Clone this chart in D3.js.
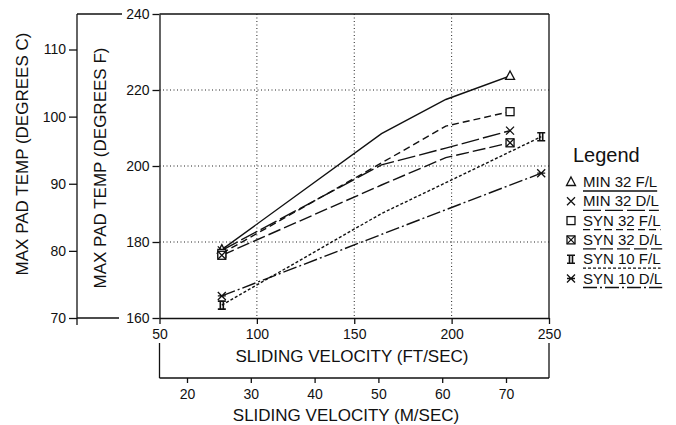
<!DOCTYPE html>
<html>
<head>
<meta charset="utf-8">
<script src="https://cdn.jsdelivr.net/npm/d3@7"></script>
<style>
  body { margin: 0; background: #fff; }
  text { font-family: "Liberation Sans", Arial, sans-serif; fill: #111; }
</style>
</head>
<body>
<div id="chart"></div>
<script>
// axis ticks
const ftTicks = [50, 100, 150, 200, 250];
const msTicks = [20, 30, 40, 50, 60, 70];
const fTicks = [160, 180, 200, 220, 240];
const cTicks = [70, 80, 90, 100, 110];

// sliding velocity (ft/sec) of the test points
const vel32 = [82, 164, 197, 230];
const vel10 = [82, 164, 197, 246];

// max pad temp (deg F)
const min32FL = [178, 208.5, 217.5, 223.7];
const min32DL = [177.8, 200.3, 204.7, 209.3];
const syn32FL = [177, 200.8, 210.5, 214.3];
const syn32DL = [176.5, 195, 202.2, 206.1];
const syn10FL = [163.4, 187.5, 195.6, 207.7];
const syn10DL = [165.8, 182, 188.5, 198.1];

const seriesNames = ["MIN 32 F/L", "MIN 32 D/L", "SYN 32 F/L", "SYN 32 D/L", "SYN 10 F/L", "SYN 10 D/L"];

const series = [
  { name: seriesNames[0], x: vel32, y: min32FL, dash: null, marker: "tri" },
  { name: seriesNames[1], x: vel32, y: min32DL, dash: "18,4", marker: "x" },
  { name: seriesNames[2], x: vel32, y: syn32FL, dash: "7,4", marker: "sq" },
  { name: seriesNames[3], x: vel32, y: syn32DL, dash: "13,4", marker: "sqx" },
  { name: seriesNames[4], x: vel10, y: syn10FL, dash: "3,2", marker: "ii" },
  { name: seriesNames[5], x: vel10, y: syn10DL, dash: "14,3,2,3", marker: "xbar" }
];

const width = 676, height = 425;
const svg = d3.select("#chart").append("svg")
    .attr("width", width)
    .attr("height", height);

// scales
const x = d3.scaleLinear().domain([50, 250]).range([159.5, 549]);
const xMs = d3.scaleLinear().domain([20, 70]).range([187, 506]);
const y = d3.scaleLinear().domain([160, 240]).range([318, 14]);
const yC = d3.scaleLinear().domain([70, 110]).range([318, 49.5]);

// gridlines
const grid = svg.append("g")
    .attr("stroke", "#222")
    .attr("stroke-width", 1)
    .attr("stroke-dasharray", "1,2.5");
grid.selectAll(".gx").data(ftTicks.slice(1, -1)).enter().append("line")
    .attr("x1", d => x(d)).attr("x2", d => x(d))
    .attr("y1", y(240)).attr("y2", y(160));
grid.selectAll(".gy").data(fTicks.slice(1, -1)).enter().append("line")
    .attr("x1", x(50)).attr("x2", x(250))
    .attr("y1", d => y(d)).attr("y2", d => y(d));

// frame
const frame = svg.append("g").attr("stroke", "#111").attr("stroke-width", 1.3).attr("fill", "none");
frame.append("line").attr("x1", x(50)).attr("x2", x(250)).attr("y1", y(240)).attr("y2", y(240));
frame.append("line").attr("x1", x(250)).attr("x2", x(250)).attr("y1", y(240)).attr("y2", y(160));

// ft/sec axis
svg.append("g")
    .attr("transform", `translate(0,${y(160)})`)
    .call(d3.axisBottom(x).tickValues(ftTicks).tickSize(6).tickPadding(5).tickSizeOuter(0))
    .call(g => g.selectAll("text").attr("font-size", 14).attr("font-family", "Liberation Sans, Arial, sans-serif"))
    .call(g => g.selectAll("line,path").attr("stroke", "#111").attr("stroke-width", 1.3));

// deg F axis
svg.append("g")
    .attr("transform", `translate(${x(50)},0)`)
    .call(d3.axisLeft(y).tickValues(fTicks).tickSize(7).tickPadding(3).tickSizeOuter(0))
    .call(g => g.selectAll("text").attr("font-size", 14).attr("font-family", "Liberation Sans, Arial, sans-serif"))
    .call(g => g.selectAll("line,path").attr("stroke", "#111").attr("stroke-width", 1.3));

// deg C axis (bracket)
const cX = 77;
svg.append("g")
    .attr("transform", `translate(${cX},0)`)
    .call(d3.axisLeft(yC).tickValues(cTicks).tickSize(8).tickPadding(3).tickSizeOuter(0))
    .call(g => g.select(".domain").remove())
    .call(g => g.selectAll("text").attr("font-size", 14).attr("font-family", "Liberation Sans, Arial, sans-serif"))
    .call(g => g.selectAll("line").attr("stroke", "#111").attr("stroke-width", 1.3));
const br = svg.append("g").attr("stroke", "#111").attr("stroke-width", 1.3);
br.append("line").attr("x1", cX).attr("x2", cX).attr("y1", y(240)).attr("y2", y(160) + 7);
br.append("line").attr("x1", cX).attr("x2", 122).attr("y1", y(240)).attr("y2", y(240));
br.append("line").attr("x1", cX).attr("x2", 119).attr("y1", y(160)).attr("y2", y(160));

// m/sec axis (bracket)
const msY = 378;
svg.append("g")
    .attr("transform", `translate(0,${msY})`)
    .call(d3.axisBottom(xMs).tickValues(msTicks).tickSize(5).tickPadding(6).tickSizeOuter(0))
    .call(g => g.select(".domain").remove())
    .call(g => g.selectAll("text").attr("font-size", 14).attr("font-family", "Liberation Sans, Arial, sans-serif"))
    .call(g => g.selectAll("line").attr("stroke", "#111").attr("stroke-width", 1.3));
const br2 = svg.append("g").attr("stroke", "#111").attr("stroke-width", 1.3);
br2.append("line").attr("x1", x(50)).attr("x2", x(250)).attr("y1", msY).attr("y2", msY);
br2.append("line").attr("x1", x(50)).attr("x2", x(50)).attr("y1", 343).attr("y2", msY);
br2.append("line").attr("x1", x(250)).attr("x2", x(250)).attr("y1", 343).attr("y2", msY);

// axis titles
svg.append("text").attr("x", 352).attr("y", 362).attr("text-anchor", "middle")
    .attr("font-size", 17).text("SLIDING VELOCITY (FT/SEC)");
svg.append("text").attr("x", 346).attr("y", 421).attr("text-anchor", "middle")
    .attr("font-size", 17).text("SLIDING VELOCITY (M/SEC)");
svg.append("text").attr("transform", "translate(28,154) rotate(-90)").attr("text-anchor", "middle")
    .attr("font-size", 17).text("MAX PAD TEMP (DEGREES C)");
svg.append("text").attr("transform", "translate(106,168) rotate(-90)").attr("text-anchor", "middle")
    .attr("font-size", 17).text("MAX PAD TEMP (DEGREES F)");

// markers
function drawMarker(g, type, cx, cy) {
  const s = 4;
  const m = g.append("g").attr("transform", `translate(${cx},${cy})`)
      .attr("stroke", "#111").attr("stroke-width", 1.3).attr("fill", "#fff");
  if (type === "tri") {
    m.append("path").attr("d", `M0,${-s - 1}L${s + 0.5},${s - 0.5}L${-s - 0.5},${s - 0.5}Z`);
  } else if (type === "x") {
    m.append("path").attr("fill", "none").attr("d", `M${-s},${-s}L${s},${s}M${-s},${s}L${s},${-s}`);
  } else if (type === "sq") {
    m.append("rect").attr("x", -s).attr("y", -s).attr("width", 2 * s).attr("height", 2 * s);
  } else if (type === "sqx") {
    m.append("rect").attr("x", -s).attr("y", -s).attr("width", 2 * s).attr("height", 2 * s);
    m.append("path").attr("fill", "none").attr("d", `M${-s},${-s}L${s},${s}M${-s},${s}L${s},${-s}`);
  } else if (type === "ii") {
    m.append("path").attr("fill", "none").attr("stroke-width", 1.6)
        .attr("d", `M${-s},${-s}H${s}M${-s},${s}H${s}M-1.5,${-s}V${s}M1.5,${-s}V${s}`);
  } else if (type === "xbar") {
    m.append("path").attr("fill", "none")
        .attr("d", `M${-s},${-s}L${s},${s}M${-s},${s}L${s},${-s}M${-s},0H${s}`);
  }
}

// series lines
const line = d3.line().x(d => x(d[0])).y(d => y(d[1]));
const plot = svg.append("g");
series.forEach(s => {
  const pts = s.x.map((v, i) => [v, s.y[i]]);
  plot.append("path")
      .datum(pts)
      .attr("d", line)
      .attr("fill", "none")
      .attr("stroke", "#111")
      .attr("stroke-width", 1.4)
      .attr("stroke-dasharray", s.dash);
  [pts[0], pts[pts.length - 1]].forEach(p => drawMarker(plot, s.marker, x(p[0]), y(p[1])));
});

// legend
const lg = svg.append("g");
lg.append("text").attr("x", 573).attr("y", 162).attr("font-size", 20).text("Legend");
series.forEach((s, i) => {
  const ry = 182 + i * 19.3;
  drawMarker(lg, s.marker, 571, ry);
  const t = lg.append("text").attr("x", 583).attr("y", ry + 5).attr("font-size", 15).text(s.name);
  const w = t.node().getComputedTextLength();
  lg.append("line")
      .attr("x1", 583).attr("x2", 583 + w)
      .attr("y1", ry + 9).attr("y2", ry + 9)
      .attr("stroke", "#111").attr("stroke-width", 1.3)
      .attr("stroke-dasharray", s.dash);
});
</script>
</body>
</html>
